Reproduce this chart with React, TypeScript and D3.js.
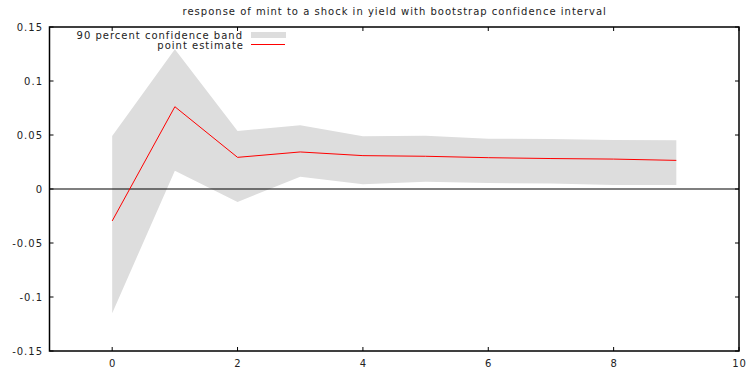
import React from "react";
import * as d3 from "d3";

const periods = [0, 1, 2, 3, 4, 5, 6, 7, 8, 9];
const pointEstimate = [-0.0296, 0.0762, 0.0293, 0.0343, 0.0309, 0.0303, 0.029, 0.0282, 0.0277, 0.0265];
const upperBand = [0.049, 0.1295, 0.0537, 0.059, 0.0488, 0.0494, 0.0466, 0.0462, 0.0454, 0.0451];
const lowerBand = [-0.115, 0.017, -0.012, 0.0114, 0.0045, 0.0068, 0.0055, 0.0052, 0.0038, 0.0037];
const xTicks = [0, 2, 4, 6, 8, 10];
const yTicks = [-0.15, -0.1, -0.05, 0, 0.05, 0.1, 0.15];
const yTickLabels = ["-0.15", "-0.1", "-0.05", "0", "0.05", "0.1", "0.15"];
const title = "response of mint to a shock in yield with bootstrap confidence interval";
const legendBand = "90 percent confidence band";
const legendLine = "point estimate";

const W = 747;
const H = 368;
const left = 49.5;
const right = 739;
const top = 27;
const bottom = 351;
const font = "'DejaVu Sans', sans-serif";
const ls = 1;

export default function App() {
  const x = d3.scaleLinear().domain([-1, 10]).range([left, right]);
  const y = d3.scaleLinear().domain([-0.15, 0.15]).range([bottom, top]);
  const rows = periods.map((p, i) => ({ p, m: pointEstimate[i], u: upperBand[i], l: lowerBand[i] }));
  const area = d3
    .area<any>()
    .x((d) => x(d.p))
    .y0((d) => y(d.l))
    .y1((d) => y(d.u));
  const line = d3
    .line<any>()
    .x((d) => x(d.p))
    .y((d) => y(d.m));
  const tl = 4;
  return (
    <svg
      width={W}
      height={H}
      style={{ position: "absolute", left: 0, top: 0, background: "#fff" }}
      fontFamily={font}
      letterSpacing={ls}
    >
      <rect x={0} y={0} width={W} height={H} fill="#fff" />
      <text x={(left + right) / 2 + 0.5} y={15} textAnchor="middle" fontSize={10} fill="#222">
        {title}
      </text>
      <path d={area(rows) || ""} fill="#dddddd" />
      <line x1={left} x2={right} y1={y(0)} y2={y(0)} stroke="#000" strokeWidth={1.2} />
      <path d={line(rows) || ""} fill="none" stroke="#ff0000" strokeWidth={1} />
      {/* legend */}
      <text x={243} y={38.5} textAnchor="end" fontSize={10} fill="#222">
        {legendBand}
      </text>
      <rect x={251} y={32} width={35} height={6} fill="#dddddd" />
      <text x={244} y={48.5} textAnchor="end" fontSize={10} fill="#222">
        {legendLine}
      </text>
      <line x1={251} x2={285} y1={44.5} y2={44.5} stroke="#ff0000" strokeWidth={1} />
      {/* ticks */}
      {xTicks.map((t) => (
        <g key={"x" + t}>
          <line x1={x(t)} x2={x(t)} y1={bottom} y2={bottom - tl} stroke="#000" />
          <line x1={x(t)} x2={x(t)} y1={top} y2={top + tl} stroke="#000" />
          <text x={x(t) + 0.5} y={367} textAnchor="middle" fontSize={10} fill="#222">
            {t}
          </text>
        </g>
      ))}
      {yTicks.map((t, i) => (
        <g key={"y" + t}>
          <line x1={left} x2={left + tl} y1={y(t)} y2={y(t)} stroke="#000" />
          <line x1={right} x2={right - tl} y1={y(t)} y2={y(t)} stroke="#000" />
          <text x={43} y={y(t) + 3.5} textAnchor="end" fontSize={10} fill="#222">
            {yTickLabels[i]}
          </text>
        </g>
      ))}
      <rect x={left} y={top} width={right - left} height={bottom - top} fill="none" stroke="#000" strokeWidth={1.5} />
    </svg>
  );
}
